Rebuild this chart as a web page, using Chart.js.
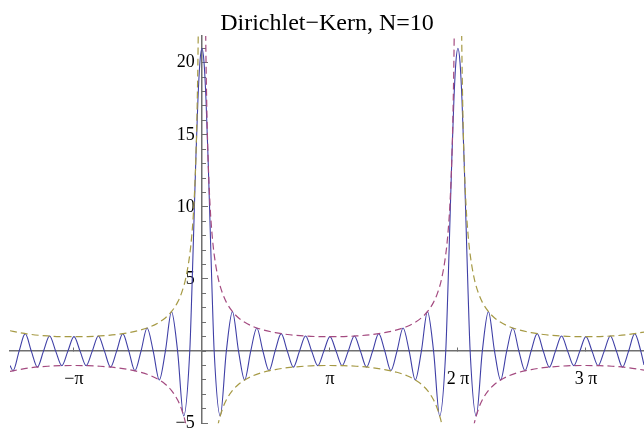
<!DOCTYPE html>
<html>
<head>
<meta charset="utf-8">
<script src="https://cdn.jsdelivr.net/npm/chart.js@4"></script>
<style>
    html, body { margin: 0; padding: 0; background: #fff; }
    #wrap { width: 644px; height: 437px; }
</style>
</head>
<body>
<div id="wrap"><canvas id="myChart"></canvas></div>
<script>
// Dirichlet kernel (zeros, lobe tops, main peaks)
const kernelX = [
    -4.712, -4.6376, -4.488, -4.3384, -4.1888, -4.0392, -3.8896, -3.74, -3.5904, -3.4408,
    -3.2912, -3.1416, -2.992, -2.8424, -2.6928, -2.5432, -2.3936, -2.244, -2.0944, -1.9448,
    -1.7952, -1.6456, -1.496, -1.3464, -1.1968, -1.0472, -0.8976, -0.748, -0.5984, -0.4488,
    -0.2992, -0.25, -0.2, -0.15, -0.1, -0.05,
    0,
    0.05, 0.1, 0.15, 0.2, 0.25, 0.2992, 0.4488, 0.5984, 0.748, 0.8976,
    1.0472, 1.1968, 1.3464, 1.496, 1.6456, 1.7952, 1.9448, 2.0944, 2.244, 2.3936,
    2.5432, 2.6928, 2.8424, 2.992, 3.1416, 3.2912, 3.4408, 3.5904, 3.74, 3.8896,
    4.0392, 4.1888, 4.3384, 4.488, 4.6376, 4.7872, 4.9368, 5.0864, 5.236, 5.3856,
    5.5352, 5.6848, 5.8344, 5.984, 6.0332, 6.0832, 6.1332, 6.1832, 6.2332, 6.2832,
    6.3332, 6.3832, 6.4332, 6.4832, 6.5332, 6.5824, 6.732, 6.8816, 7.0312, 7.1808,
    7.3304, 7.48, 7.6296, 7.7792, 7.9288, 8.0784, 8.228, 8.3776, 8.5272, 8.6768,
    8.8264, 8.976, 9.1256, 9.2752, 9.4248, 9.5744, 9.724, 9.8736, 10.0232, 10.1728,
    10.3224, 10.472, 10.6216, 10.7712, 10.85
];
const kernelY = [
    -1.00, -1.36, 0, 1.21, 0, -1.11, 0, 1.05, 0, -1.01,
    0, 1.00, 0, -1.01, 0, 1.05, 0, -1.11, 0, 1.21,
    0, -1.36, 0, 1.60, 0, -2.00, 0, 2.74, 0, -4.5,
    0, 3.96, 8.65, 13.35, 17.36, 20.05,
    21,
    20.05, 17.36, 13.35, 8.65, 3.96, 0, -4.5, 0, 2.74, 0,
    -2.00, 0, 1.60, 0, -1.36, 0, 1.21, 0, -1.11, 0,
    1.05, 0, -1.01, 0, 1.00, 0, -1.01, 0, 1.05, 0,
    -1.11, 0, 1.21, 0, -1.36, 0, 1.60, 0, -2.00, 0,
    2.74, 0, -4.5, 0, 3.96, 8.65, 13.35, 17.36, 20.05, 21,
    20.05, 17.36, 13.35, 8.65, 3.96, 0, -4.5, 0, 2.74, 0,
    -2.00, 0, 1.60, 0, -1.36, 0, 1.21, 0, -1.11, 0,
    1.05, 0, -1.01, 0, 1.00, 0, -1.01, 0, 1.05, 0,
    -1.11, 0, 1.21, 0, -0.96
];

// dashed envelopes, null at the two poles
const envX = [
    -4.712, -4.4832, -4.1832, -3.7832, -3.4832, -3.1416, -2.8, -2.5, -2.1, -1.8,
    -1.5, -1.25, -1.05, -0.9, -0.75, -0.6, -0.5, -0.4, -0.3, -0.25,
    -0.2, -0.15, -0.12, -0.1, -0.085,
    0,
    0.085, 0.1, 0.12, 0.15, 0.2, 0.25, 0.3, 0.4, 0.5, 0.6,
    0.75, 0.9, 1.05, 1.25, 1.5, 1.8, 2.1, 2.5, 2.8, 3.1416,
    3.4832, 3.7832, 4.1832, 4.4832, 4.7832, 5.0332, 5.2332, 5.3832, 5.5332, 5.6832,
    5.7832, 5.8832, 5.9832, 6.0332, 6.0832, 6.1332, 6.1632, 6.1832, 6.1982,
    6.2832,
    6.3682, 6.3832, 6.4032, 6.4332, 6.4832, 6.5332, 6.5832, 6.6832, 6.7832, 6.8832,
    7.0332, 7.1832, 7.3332, 7.5332, 7.7832, 8.0832, 8.3832, 8.7832, 9.0832, 9.4248,
    9.7664, 10.0664, 10.4664, 10.85
];
const purpleY = [
    -1.41, -1.28, -1.15, -1.05, -1.01, -1.00, -1.01, -1.05, -1.15, -1.28,
    -1.47, -1.71, -2.00, -2.30, -2.73, -3.38, -4.04, -5.03, -6.69, -8.02,
    -10.02, -13.35, -16.68, -20.01, -23.54,
    null,
    23.54, 20.01, 16.68, 13.35, 10.02, 8.02, 6.69, 5.03, 4.04, 3.38,
    2.73, 2.30, 2.00, 1.71, 1.47, 1.28, 1.15, 1.05, 1.01, 1.00,
    1.01, 1.05, 1.15, 1.28, 1.47, 1.71, 2.00, 2.30, 2.73, 3.38,
    4.04, 5.03, 6.69, 8.02, 10.02, 13.35, 16.68, 20.01, 23.54,
    null,
    -23.54, -20.01, -16.68, -13.35, -10.02, -8.02, -6.69, -5.03, -4.04, -3.38,
    -2.73, -2.30, -2.00, -1.71, -1.47, -1.28, -1.15, -1.05, -1.01, -1.00,
    -1.01, -1.05, -1.15, -1.32
];
const oliveY = [
    1.41, 1.28, 1.15, 1.05, 1.01, 1.00, 1.01, 1.05, 1.15, 1.28,
    1.47, 1.71, 2.00, 2.30, 2.73, 3.38, 4.04, 5.03, 6.69, 8.02,
    10.02, 13.35, 16.68, 20.01, 23.54,
    null,
    -23.54, -20.01, -16.68, -13.35, -10.02, -8.02, -6.69, -5.03, -4.04, -3.38,
    -2.73, -2.30, -2.00, -1.71, -1.47, -1.28, -1.15, -1.05, -1.01, -1.00,
    -1.01, -1.05, -1.15, -1.28, -1.47, -1.71, -2.00, -2.30, -2.73, -3.38,
    -4.04, -5.03, -6.69, -8.02, -10.02, -13.35, -16.68, -20.01, -23.54,
    null,
    23.54, 20.01, 16.68, 13.35, 10.02, 8.02, 6.69, 5.03, 4.04, 3.38,
    2.73, 2.30, 2.00, 1.71, 1.47, 1.28, 1.15, 1.05, 1.01, 1.00,
    1.01, 1.05, 1.15, 1.32
];

const xTickValues = [-3.1416, 3.1416, 6.2832, 9.4248];
const xTickLabels = ["\u2212\u03c0", "\u03c0", "2 \u03c0", "3 \u03c0"];
const yTickValues = [-5, 5, 10, 15, 20];

function zip(xs, ys) {
    return xs.map(function (x, i) { return { x: x, y: ys[i] }; });
}

const axisColor = "#6f6f6f";
const serif = "'Liberation Serif', 'Times New Roman', serif";

const ctx = document.getElementById("myChart");

new Chart(ctx, {
    type: "line",
    data: {
        datasets: [
            {
                label: "-1/sin(x/2)",
                data: zip(envX, oliveY),
                borderColor: "#a69a45",
                borderWidth: 1.2,
                borderDash: [7, 4],
                pointRadius: 0,
                cubicInterpolationMode: "monotone",
                spanGaps: false,
            },
            {
                label: "1/sin(x/2)",
                data: zip(envX, purpleY),
                borderColor: "#a44b80",
                borderWidth: 1.2,
                borderDash: [7, 4],
                pointRadius: 0,
                cubicInterpolationMode: "monotone",
                spanGaps: false,
            },
            {
                label: "D10",
                data: zip(kernelX, kernelY),
                borderColor: "#3f3fa6",
                borderWidth: 1.1,
                pointRadius: 0,
                cubicInterpolationMode: "monotone",
            },
        ],
    },
    options: {
        responsive: true,
        maintainAspectRatio: false,
        animation: false,
        layout: { padding: { left: 10, right: 0, top: 0, bottom: 4 } },
        plugins: {
            legend: { display: false },
            tooltip: { enabled: false },
            title: {
                display: true,
                text: "Dirichlet\u2212Kern, N=10",
                color: "#000",
                font: { family: serif, size: 24, weight: "normal", lineHeight: 1 },
                padding: { top: 11.5, bottom: 0.5 },
            },
        },
        scales: {
            x: {
                type: "linear",
                min: -4.712,
                max: 10.85,
                position: { y: 0 },
                afterFit: function (s) { s.height = 0; },
                afterBuildTicks: function (s) {
                    s.ticks = xTickValues.map(function (v) { return { value: v }; });
                },
                grid: { drawOnChartArea: false, tickLength: -4, color: axisColor, tickWidth: 1 },
                border: { color: axisColor, width: 1.5 },
                ticks: {
                    autoSkip: false,
                    maxRotation: 0,
                    padding: 21,
                    color: "#000",
                    font: { family: serif, size: 18 },
                    callback: function (value, index) { return xTickLabels[index]; },
                },
            },
            y: {
                type: "linear",
                min: -5,
                max: 21.85,
                position: { x: 0 },
                afterFit: function (s) { s.width = 0; },
                afterBuildTicks: function (s) {
                    s.ticks = yTickValues.map(function (v) { return { value: v }; });
                },
                grid: { drawOnChartArea: false, tickLength: -7, color: axisColor, tickWidth: 1 },
                border: { color: axisColor, width: 1.5 },
                ticks: {
                    autoSkip: false,
                    color: "#000",
                    font: { family: serif, size: 18 },
                    // labels sit right-aligned on the axis line, so pad them with thin spaces
                    callback: function (value) {
                        const txt = value < 0 ? "\u2212" + Math.abs(value) : String(value);
                        return txt + "\u2009\u2009";
                    },
                },
            },
            y2: {
                type: "linear",
                min: -5,
                max: 21.85,
                position: { x: 0 },
                afterFit: function (s) { s.width = 0; },
                grid: { drawOnChartArea: false, tickLength: -4, color: axisColor, tickWidth: 1 },
                border: { display: false },
                ticks: {
                    stepSize: 1,
                    includeBounds: false,
                    autoSkip: false,
                    callback: function () { return ""; },
                },
            },
        },
    },
});
</script>
</body>
</html>
